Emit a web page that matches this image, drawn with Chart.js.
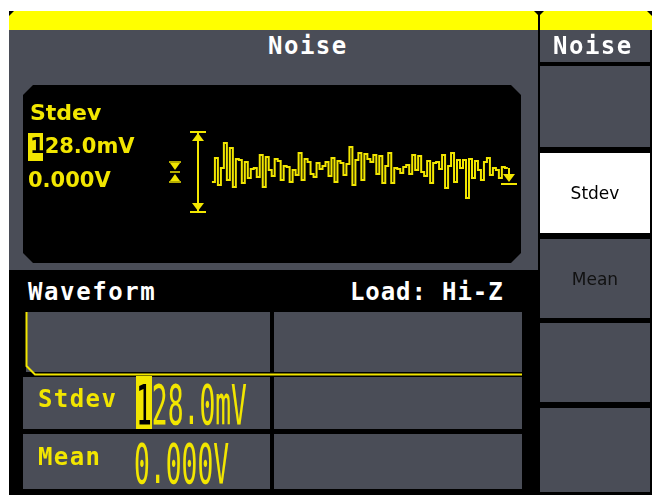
<!DOCTYPE html>
<html lang="en">
<head>
<meta charset="UTF-8">
<title>Noise</title>
<script src="https://cdn.jsdelivr.net/npm/chart.js"></script>
<style>
  body { margin: 0; width: 652px; height: 495px; background: #fff; position: relative; overflow: hidden;
         font-family: "DejaVu Sans Mono", monospace; }
  .a { position: absolute; }
  .gray { background: #4a4d57; }
  .mono { font-family: "DejaVu Sans Mono", monospace; font-weight: bold; line-height: 1; white-space: nowrap; }
  .sans { font-family: "DejaVu Sans", sans-serif; font-weight: bold; line-height: 1; white-space: nowrap; color: #f2e600; }
  .big { font-family: "DejaVu Sans Mono", monospace; font-size: 56px; line-height: 1; color: #f2e600;
         transform: scaleX(0.47); transform-origin: 0 0; white-space: nowrap; }
  #display { left: 23px; top: 85px; width: 498px; height: 178px; background: #000;
             clip-path: polygon(10px 0, calc(100% - 10px) 0, 100% 10px, 100% calc(100% - 10px),
                                calc(100% - 10px) 100%, 10px 100%, 0 calc(100% - 10px), 0 10px); }
  .menu { left: 540px; width: 110px; display: flex; align-items: center; justify-content: center;
          font-family: "DejaVu Sans", sans-serif; font-size: 17px; }
</style>
</head>
<body>
  <!-- screen frame -->
  <div class="a" style="left:9px;top:11px;width:643px;height:484px;background:#000"></div>
  <div class="a" style="left:9px;top:11px;width:643px;height:19px;background:#ffff00"></div>
  <div class="a" style="left:9px;top:11px;width:0;height:0;border-top:5px solid #000;border-right:5px solid transparent"></div>
  <div class="a" style="left:538px;top:11px;width:2px;height:19px;background:#000"></div>
  <div class="a" style="left:534px;top:11px;width:0;height:0;border-left:5px solid transparent;border-right:5px solid transparent;border-top:5px solid #000"></div>
  <div class="a" style="left:647px;top:11px;width:0;height:0;border-top:5px solid #000;border-left:5px solid transparent"></div>

  <!-- top panel -->
  <div class="a gray" style="left:9px;top:30px;width:529px;height:240px"></div>
  <div class="a mono" style="left:268px;top:34px;font-size:24px;letter-spacing:1.5px;color:#fff">Noise</div>

  <div id="display" class="a">
    <div style="position:relative;width:498px;height:178px"><canvas id="noiseChart"></canvas></div>
  </div>
  <div class="a sans" style="left:30px;top:102px;font-size:22px">Stdev</div>
  <div class="a" style="left:28px;top:133px;width:15px;height:28px;background:#f2e600"></div>
  <div class="a sans" style="left:30px;top:136px;font-size:21px"><span style="color:#000">1</span>28.0mV</div>
  <div class="a sans" style="left:28px;top:170px;font-size:21px">0.000V</div>

  <!-- bottom panel -->
  <div class="a mono" style="left:28px;top:280px;font-size:24px;letter-spacing:1.6px;color:#fff">Waveform</div>
  <div class="a mono" style="left:350px;top:280px;font-size:24px;letter-spacing:0.9px;color:#fff">Load:&nbsp;Hi-Z</div>
  <div class="a gray" style="left:26px;top:312px;width:244px;height:60px"></div>
  <div class="a gray" style="left:274px;top:312px;width:248px;height:60px"></div>
  <div class="a gray" style="left:23px;top:377px;width:247px;height:52px"></div>
  <div class="a gray" style="left:274px;top:377px;width:248px;height:52px"></div>
  <div class="a gray" style="left:23px;top:434px;width:247px;height:55px"></div>
  <div class="a gray" style="left:274px;top:434px;width:248px;height:55px"></div>
  <svg class="a" style="left:0;top:0" width="652" height="495">
    <polyline points="26.5,312 26.5,366 35,374.5 522,374.5" fill="none" stroke="#f2e600" stroke-width="2"/>
  </svg>
  <div class="a mono" style="left:38px;top:387px;font-size:24px;letter-spacing:1.4px;color:#f2e600">Stdev</div>
  <div class="a" style="left:136px;top:376px;width:16px;height:53px;background:#f2e600"></div>
  <div class="a big" style="left:136px;top:377px"><span style="color:#000">1</span>28.0mV</div>
  <div class="a mono" style="left:38px;top:445px;font-size:24px;letter-spacing:1.4px;color:#f2e600">Mean</div>
  <div class="a big" style="left:134px;top:436px">0.000V</div>

  <!-- soft menu -->
  <div class="a gray" style="left:540px;top:30px;width:110px;height:32px"></div>
  <div class="a mono" style="left:553px;top:34px;font-size:24px;letter-spacing:1.5px;color:#fff">Noise</div>
  <div class="a gray menu" style="top:66px;height:81px"></div>
  <div class="a menu" style="top:153px;height:80px;background:#fff;color:#000">Stdev</div>
  <div class="a gray menu" style="top:239px;height:79px;color:#111;align-items:flex-start;padding-top:30px;height:49px">Mean</div>
  <div class="a gray menu" style="top:323px;height:79px"></div>
  <div class="a gray menu" style="top:408px;height:84px"></div>

<script>
  // noise samples shown on the screen (mV, sample-and-hold)
  const noiseMv = [
    -100, 140, -130, 40, 290, -80, 240, -150, 130, 120,
    -110, 100, -60, 30, 40, -50, 170, -150, 150, 20,
    -40, 130, 110, -80, 60, 50, -100, 20, -30, 190,
    -80, 130, 100, -20, -50, 90, 30, 60, 100, -40,
    140, -100, 110, 90, -30, 80, 250, -130, 120, 190,
    -80, 180, 130, 100, 170, -20, 160, -110, 60, 190,
    -110, 40, 30, -10, 50, 70, -20, 170, 20, 160,
    0, -40, 110, -110, 90, 100, 30, 170, -160, 60,
    190, -100, 120, 40, 120, -260, 130, -60, 110, 20,
    -80, 100, 140, -30, 40, 20, -60, 50, 40, 40
  ];
  const sampleIdx = noiseMv.map((v, i) => i);
  const stdevMv = 128;
  const meanMv = 0;
  const rangeMv = 400;     // span of the big amplitude arrow
  const iconMv = 105;      // small stdev icon
  const traceColor = "#f2e600";

  // horizontal places of the icons, in sample units
  const iconX = -12.5, rangeX = -4.7, groundX = 99.5;

  function tri(ctx, cx, baseY, apexY, hw) {
    ctx.beginPath();
    ctx.moveTo(cx - hw, baseY);
    ctx.lineTo(cx + hw, baseY);
    ctx.lineTo(cx, apexY);
    ctx.closePath();
    ctx.fill();
  }
  function hline(ctx, x1, x2, yy) {
    ctx.beginPath(); ctx.moveTo(x1, yy); ctx.lineTo(x2, yy); ctx.stroke();
  }
  function vline(ctx, xx, y1, y2) {
    ctx.beginPath(); ctx.moveTo(xx, y1); ctx.lineTo(xx, y2); ctx.stroke();
  }

  const markers = {
    id: "markers",
    afterDatasetsDraw(chart) {
      const { ctx, scales: { x, y } } = chart;
      ctx.save();
      ctx.strokeStyle = traceColor;
      ctx.fillStyle = traceColor;
      ctx.lineWidth = 2;

      // big range arrow
      const ax = Math.round(x.getPixelForValue(rangeX));
      const yT = Math.round(y.getPixelForValue(meanMv + rangeMv));
      const yB = Math.round(y.getPixelForValue(meanMv - rangeMv));
      hline(ctx, ax - 8, ax + 8, yT);
      hline(ctx, ax - 8, ax + 8, yB);
      vline(ctx, ax, yT, yB);
      tri(ctx, ax, yT + 9, yT + 1, 6);
      tri(ctx, ax, yB - 9, yB - 1, 6);

      // small stdev icon
      const bx = Math.round(x.getPixelForValue(iconX));
      const y0 = Math.round(y.getPixelForValue(meanMv));
      const y1 = Math.round(y.getPixelForValue(meanMv + iconMv));
      const y2 = Math.round(y.getPixelForValue(meanMv - iconMv));
      ctx.lineWidth = 1.5;
      hline(ctx, bx - 6, bx + 6, y1);
      hline(ctx, bx - 6, bx + 6, y2);
      hline(ctx, bx - 5, bx + 5, y0);
      tri(ctx, bx, y1 + 1, y0 - 2, 5);
      tri(ctx, bx, y2 - 1, y0 + 2, 5);
      ctx.lineWidth = 2;

      // ground / offset marker at end of trace
      const gx = Math.round(x.getPixelForValue(groundX));
      const gTop = Math.round(y.getPixelForValue(noiseMv[noiseMv.length - 1]));
      const gBase = Math.round(y.getPixelForValue(-20));
      const gBar = Math.round(y.getPixelForValue(-115));
      vline(ctx, gx, gTop, gBase);
      tri(ctx, gx, gBase, gBar - 2, 6);
      hline(ctx, gx - 8, gx + 8, gBar);
      ctx.restore();
    }
  };

  new Chart(document.getElementById("noiseChart"), {
    type: "line",
    data: {
      datasets: [{
        label: "Noise",
        data: sampleIdx.map((i) => ({ x: i, y: noiseMv[i] })),
        borderColor: traceColor,
        borderWidth: 2,
        stepped: true,
        pointRadius: 0,
        fill: false
      }]
    },
    options: {
      responsive: true,
      maintainAspectRatio: false,
      animation: false,
      layout: { padding: 0 },
      plugins: { legend: { display: false }, tooltip: { enabled: false } },
      scales: {
        x: { type: "linear", min: -63.2, max: 103.4, display: false },
        y: { min: -910, max: 870, display: false }
      }
    },
    plugins: [markers]
  });
</script>
</body>
</html>
